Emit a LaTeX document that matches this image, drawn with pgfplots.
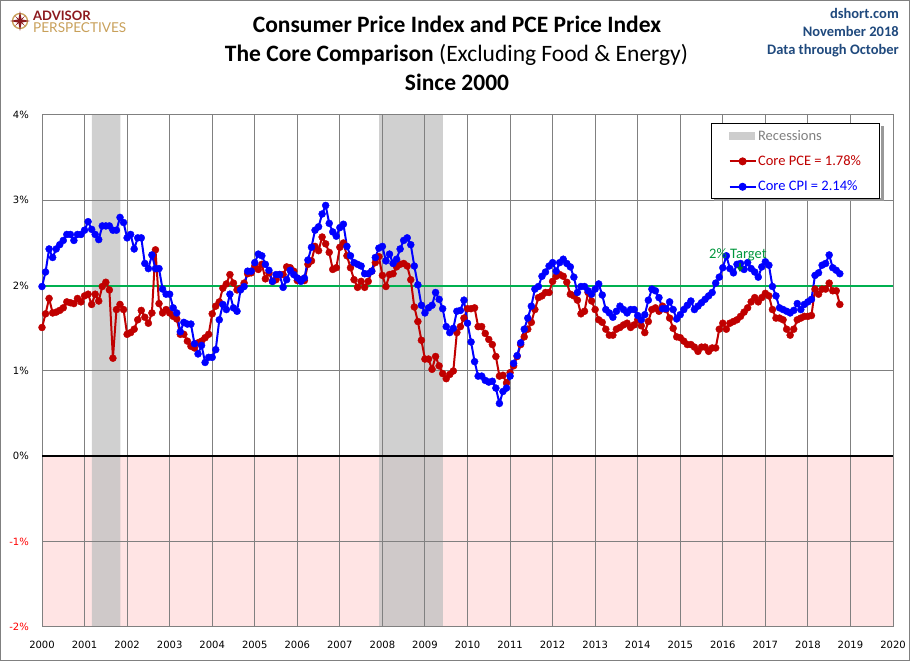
\documentclass[border=0pt]{standalone}
\usepackage{fontspec}
\setmainfont{Carlito}
\newfontfamily\dejavu{DejaVu Sans}
\newfontfamily\lato{Lato}
\usepackage{pgfplots}
\pgfplotsset{compat=1.18}
\usepackage{pgfplotstable}
\usetikzlibrary{arrows.meta}
\definecolor{pcered}{RGB}{192,0,0}
\definecolor{cpiblue}{RGB}{0,0,255}
\definecolor{tgtgreen}{RGB}{0,176,80}
\definecolor{tgttext}{RGB}{0,150,60}
\definecolor{pinkbg}{RGB}{255,228,228}
\definecolor{recgray}{RGB}{192,192,192}
\definecolor{hdrblue}{RGB}{31,73,125}
\definecolor{apred}{RGB}{140,25,30}
\definecolor{apgold}{RGB}{200,160,90}
\definecolor{gridgray}{RGB}{128,128,128}

\pgfplotstableread{
yr m pce cpi
2000 1 1.51 1.99
2000 2 1.67 2.16
2000 3 1.85 2.43
2000 4 1.68 2.33
2000 5 1.69 2.43
2000 6 1.71 2.48
2000 7 1.74 2.53
2000 8 1.81 2.60
2000 9 1.80 2.60
2000 10 1.79 2.53
2000 11 1.85 2.60
2000 12 1.81 2.60
2001 1 1.88 2.65
2001 2 1.90 2.75
2001 3 1.78 2.66
2001 4 1.90 2.60
2001 5 1.82 2.54
2001 6 1.99 2.70
2001 7 2.04 2.70
2001 8 1.95 2.70
2001 9 1.15 2.65
2001 10 1.72 2.65
2001 11 1.78 2.80
2001 12 1.72 2.74
2002 1 1.43 2.56
2002 2 1.45 2.60
2002 3 1.49 2.43
2002 4 1.60 2.56
2002 5 1.71 2.56
2002 6 1.63 2.26
2002 7 1.56 2.20
2002 8 1.68 2.36
2002 9 2.42 2.20
2002 10 1.79 2.20
2002 11 1.68 1.96
2002 12 1.72 1.90
2003 1 1.68 1.90
2003 2 1.64 1.74
2003 3 1.61 1.68
2003 4 1.43 1.46
2003 5 1.43 1.57
2003 6 1.35 1.55
2003 7 1.29 1.55
2003 8 1.27 1.32
2003 9 1.33 1.20
2003 10 1.35 1.30
2003 11 1.39 1.10
2003 12 1.43 1.16
2004 1 1.67 1.16
2004 2 1.76 1.25
2004 3 1.81 1.60
2004 4 1.97 1.78
2004 5 2.02 1.72
2004 6 2.13 1.90
2004 7 2.03 1.74
2004 8 1.95 1.70
2004 9 1.97 1.95
2004 10 2.03 1.99
2004 11 2.14 2.17
2004 12 2.15 2.17
2005 1 2.23 2.27
2005 2 2.19 2.37
2005 3 2.25 2.35
2005 4 2.08 2.25
2005 5 2.15 2.18
2005 6 2.05 2.05
2005 7 2.07 2.13
2005 8 2.13 2.13
2005 9 2.13 1.98
2005 10 2.22 2.07
2005 11 2.21 2.18
2005 12 2.17 2.13
2006 1 2.06 2.09
2006 2 2.07 2.05
2006 3 2.06 2.09
2006 4 2.25 2.30
2006 5 2.29 2.45
2006 6 2.46 2.65
2006 7 2.41 2.69
2006 8 2.57 2.84
2006 9 2.49 2.94
2006 10 2.39 2.73
2006 11 2.19 2.63
2006 12 2.21 2.58
2007 1 2.45 2.68
2007 2 2.50 2.72
2007 3 2.35 2.46
2007 4 2.21 2.35
2007 5 2.07 2.27
2007 6 1.98 2.25
2007 7 2.05 2.23
2007 8 1.98 2.14
2007 9 2.05 2.14
2007 10 2.17 2.17
2007 11 2.27 2.33
2007 12 2.34 2.44
2008 1 2.12 2.46
2008 2 1.99 2.29
2008 3 2.13 2.37
2008 4 2.14 2.26
2008 5 2.22 2.31
2008 6 2.25 2.43
2008 7 2.26 2.53
2008 8 2.23 2.56
2008 9 2.07 2.48
2008 10 1.75 2.23
2008 11 1.58 2.01
2008 12 1.36 1.77
2009 1 1.14 1.68
2009 2 1.14 1.74
2009 3 1.02 1.77
2009 4 1.17 1.92
2009 5 1.06 1.84
2009 6 0.97 1.73
2009 7 0.91 1.52
2009 8 0.96 1.45
2009 9 1.00 1.50
2009 10 1.45 1.70
2009 11 1.52 1.71
2009 12 1.62 1.83
2010 1 1.73 1.56
2010 2 1.73 1.34
2010 3 1.74 1.11
2010 4 1.52 0.94
2010 5 1.52 0.94
2010 6 1.44 0.89
2010 7 1.37 0.87
2010 8 1.31 0.88
2010 9 1.17 0.80
2010 10 0.94 0.62
2010 11 0.95 0.76
2010 12 0.86 0.80
2011 1 0.98 0.94
2011 2 1.06 1.09
2011 3 1.17 1.18
2011 4 1.31 1.33
2011 5 1.40 1.49
2011 6 1.49 1.62
2011 7 1.57 1.76
2011 8 1.72 1.96
2011 9 1.86 1.99
2011 10 1.88 2.11
2011 11 1.92 2.16
2011 12 1.92 2.23
2012 1 2.05 2.27
2012 2 2.11 2.17
2012 3 2.13 2.27
2012 4 2.11 2.31
2012 5 2.04 2.26
2012 6 1.90 2.22
2012 7 1.88 2.10
2012 8 1.83 1.92
2012 9 1.67 1.99
2012 10 1.70 1.99
2012 11 1.92 1.94
2012 12 1.82 1.90
2013 1 1.72 1.96
2013 2 1.60 2.02
2013 3 1.57 1.89
2013 4 1.49 1.72
2013 5 1.42 1.68
2013 6 1.42 1.63
2013 7 1.49 1.70
2013 8 1.51 1.76
2013 9 1.54 1.72
2013 10 1.56 1.68
2013 11 1.51 1.72
2013 12 1.54 1.72
2014 1 1.60 1.65
2014 2 1.53 1.60
2014 3 1.45 1.66
2014 4 1.58 1.83
2014 5 1.72 1.96
2014 6 1.74 1.94
2014 7 1.70 1.86
2014 8 1.76 1.73
2014 9 1.72 1.73
2014 10 1.62 1.81
2014 11 1.50 1.72
2014 12 1.40 1.61
2015 1 1.39 1.66
2015 2 1.35 1.72
2015 3 1.31 1.77
2015 4 1.31 1.82
2015 5 1.28 1.72
2015 6 1.23 1.76
2015 7 1.28 1.80
2015 8 1.28 1.84
2015 9 1.23 1.88
2015 10 1.27 1.92
2015 11 1.27 2.03
2015 12 1.49 2.10
2016 1 1.56 2.21
2016 2 1.49 2.35
2016 3 1.56 2.20
2016 4 1.58 2.15
2016 5 1.60 2.25
2016 6 1.64 2.26
2016 7 1.69 2.19
2016 8 1.74 2.27
2016 9 1.81 2.20
2016 10 1.86 2.16
2016 11 1.81 2.10
2016 12 1.86 2.22
2017 1 1.91 2.28
2017 2 1.88 2.24
2017 3 1.72 1.99
2017 4 1.62 1.88
2017 5 1.62 1.74
2017 6 1.60 1.72
2017 7 1.49 1.70
2017 8 1.42 1.68
2017 9 1.49 1.71
2017 10 1.60 1.79
2017 11 1.62 1.72
2017 12 1.64 1.78
2018 1 1.64 1.81
2018 2 1.65 1.84
2018 3 1.96 2.12
2018 4 1.90 2.15
2018 5 1.96 2.24
2018 6 1.96 2.26
2018 7 2.03 2.36
2018 8 1.94 2.21
2018 9 1.94 2.18
2018 10 1.78 2.14
}\data

\begin{document}
\begin{tikzpicture}
\begin{axis}[
  at={(42pt,34pt)}, anchor=south west,
  scale only axis, width=851pt, height=512pt,
  xmin=2000, xmax=2020, ymin=-2, ymax=4,
  xtick={2000,2001,2002,2003,2004,2005,2006,2007,2008,2009,2010,2011,2012,2013,2014,2015,2016,2017,2018,2019,2020},
  xticklabels={2000,2001,2002,2003,2004,2005,2006,2007,2008,2009,2010,2011,2012,2013,2014,2015,2016,2017,2018,2019,2020},
  ytick={-2,-1,0,1,2,3,4},
  yticklabels={\textcolor{red}{-2\%},\textcolor{red}{-1\%},0\%,1\%,2\%,3\%,4\%},
  ticklabel style={font=\dejavu\fontsize{10}{12}\selectfont},
  yticklabel style={anchor=east, inner sep=0pt, xshift=-13pt},
  xticklabel style={anchor=north, inner sep=0pt, yshift=-13.5pt},
  major tick length=0pt,
  grid=major, grid style={gridgray, line width=1pt},
  axis line style={gridgray, line width=1pt},
  set layers,
  legend cell align=left,
  legend style={at={(0.9847,0.984)}, anchor=north east,
    draw=black, line width=1pt, fill=white,
    font=\fontsize{14.5}{17}\selectfont,
    row sep=11pt, inner xsep=17pt, inner ysep=5pt,
    nodes={inner sep=1.5pt},
  },
]
% background areas
\addplot[on layer=axis background, draw=none, fill=pinkbg, forget plot]
  coordinates {(2000,0) (2020,0) (2020,-2) (2000,-2) (2000,0)};
\addplot[on layer=axis background, draw=none, fill=recgray, fill opacity=0.75, forget plot]
  coordinates {(2001.17,-2) (2001.84,-2) (2001.84,4) (2001.17,4) (2001.17,-2)};
\addplot[on layer=axis background, draw=none, fill=recgray, fill opacity=0.75, forget plot]
  coordinates {(2007.92,-2) (2009.42,-2) (2009.42,4) (2007.92,4) (2007.92,-2)};
% reference lines
\addplot[tgtgreen, line width=2pt, forget plot] coordinates {(2000,2) (2020,2)};
\addplot[black, line width=2pt, forget plot] coordinates {(2000,0) (2020,0)};
% series
\addplot[pcered, line width=2pt, mark=*, mark size=3.5pt,
  mark options={solid, fill=pcered, draw=pcered, line width=0.4pt}, forget plot]
  table[x expr=\thisrow{yr}+(\thisrow{m}-1)/12, y=pce] {\data};
\addplot[cpiblue, line width=2pt, mark=*, mark size=3.5pt,
  mark options={solid, fill=cpiblue, draw=cpiblue, line width=0.4pt}, forget plot]
  table[x expr=\thisrow{yr}+(\thisrow{m}-1)/12, y=cpi] {\data};
% legend
\addlegendimage{legend image code/.code={\fill[recgray!80!white] (0pt,-3.5pt) rectangle (25pt,3.5pt);}}
\addlegendentry{\textcolor{gridgray}{Recessions}}
\addlegendimage{legend image code/.code={\draw[pcered,line width=2pt] (0pt,0pt) -- (26pt,0pt); \fill[pcered] (13pt,0pt) circle (3.5pt);}}
\addlegendentry{\textcolor{pcered}{Core PCE = 1.78\%}}
\addlegendimage{legend image code/.code={\draw[cpiblue,line width=2pt] (0pt,0pt) -- (26pt,0pt); \fill[cpiblue] (13pt,0pt) circle (3.5pt);}}
\addlegendentry{\textcolor{cpiblue}{Core CPI = 2.14\%}}
\end{axis}
% legend shadow strips
\fill[black!40] (880.5pt,459.5pt) rectangle (883.5pt,535pt);
\fill[black!40] (714pt,459.5pt) rectangle (883.5pt,462.5pt);
% outer frame
\draw[gridgray, line width=1pt] (0.5pt,0.5pt) rectangle (909.5pt,660.5pt);
% titles
\node[anchor=base, inner sep=0pt, font=\bfseries\fontsize{23.5}{28}\selectfont] at (457pt,628pt) {Consumer Price Index and PCE Price Index};
\node[anchor=base, inner sep=0pt, font=\fontsize{23.5}{28}\selectfont] at (456.5pt,599pt) {\textbf{The Core Comparison} (Excluding Food \& Energy)};
\node[anchor=base, inner sep=0pt, font=\bfseries\fontsize{23.5}{28}\selectfont] at (457pt,570pt) {Since 2000};
% header right
\node[anchor=base east, inner sep=0pt, text=hdrblue, font=\bfseries\fontsize{14.5}{17}\selectfont] at (899pt,642pt) {dshort.com};
\node[anchor=base east, inner sep=0pt, text=hdrblue, font=\bfseries\fontsize{14.5}{17}\selectfont] at (899pt,624pt) {November 2018};
\node[anchor=base east, inner sep=0pt, text=hdrblue, font=\bfseries\fontsize{14.5}{17}\selectfont] at (899pt,606.5pt) {Data through October};
% logo
\draw[apgold, line width=1.3pt] (20pt,640pt) circle (7.5pt);
\fill[apred] (20pt,650pt) -- (21.6pt,641.6pt) -- (30pt,640pt) -- (21.6pt,638.4pt) -- (20pt,630pt) -- (18.4pt,638.4pt) -- (10pt,640pt) -- (18.4pt,641.6pt) -- cycle;
\fill[apred] (25pt,645pt) -- (21pt,640pt) -- (25pt,635pt) -- (20pt,639pt) -- (15pt,635pt) -- (19pt,640pt) -- (15pt,645pt) -- (20pt,641pt) -- cycle;
\node[anchor=north west, inner sep=0pt, align=left, font=\lato\fontsize{13.6}{12.4}\selectfont] at (33pt,650.5pt)
  {{\bfseries\fontsize{13}{12.4}\selectfont\textcolor{apred}{ADVISOR}}\\\textcolor{apgold}{PERSPECTIVES}};
% target annotation
\node[anchor=base west, inner sep=0pt, text=tgttext, font=\fontsize{14.5}{17}\selectfont] at (709pt,402pt) {2\% Target};
\draw[-{Triangle[width=6pt,length=5pt]}, draw=tgttext!80!black, fill=tgttext!80!black, line width=1.5pt] (740pt,398pt) -- (740pt,389pt);
\end{tikzpicture}
\end{document}
